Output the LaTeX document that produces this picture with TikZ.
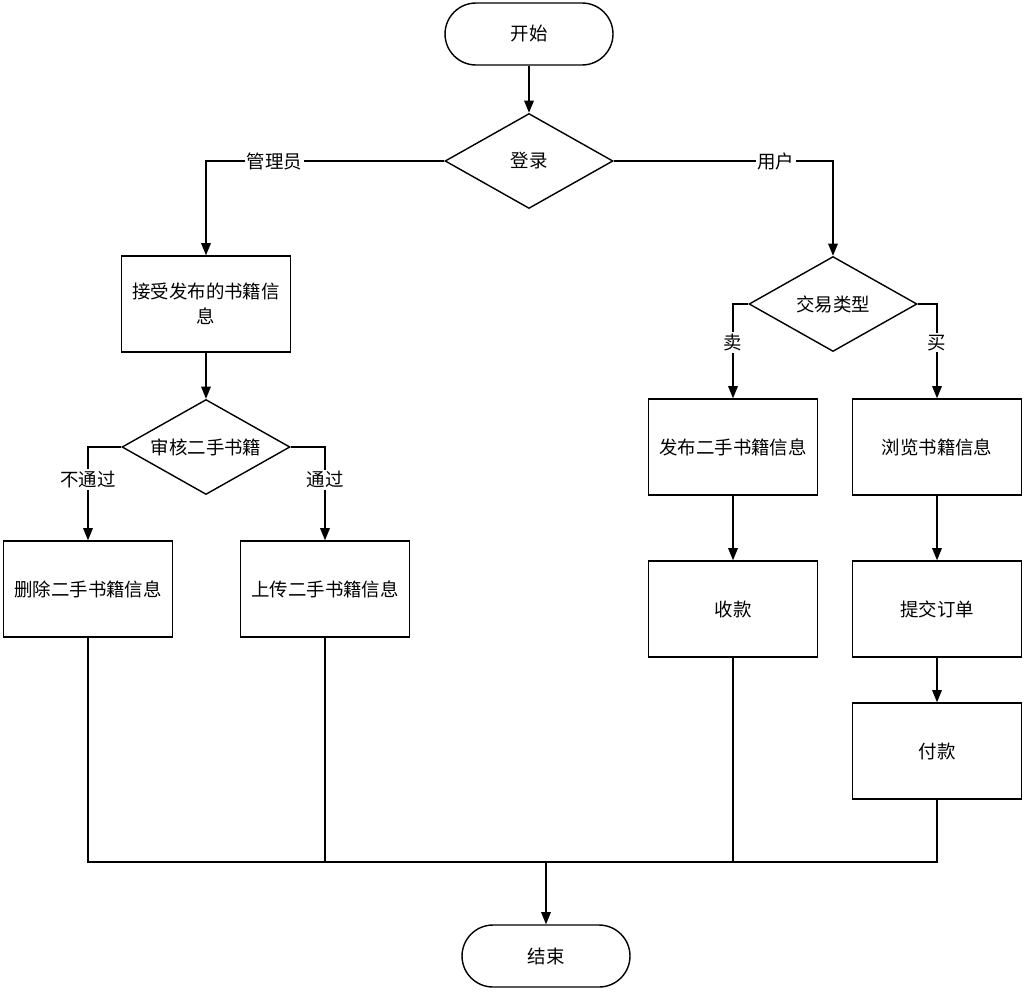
\documentclass[tikz,border=0pt]{standalone}
\usepackage{fontspec}
\setmainfont{Noto Sans CJK SC}
\usetikzlibrary{shapes.geometric,arrows.meta}

\begin{document}
\begin{tikzpicture}[
      x=0.02cm, y=-0.02cm,
      every node/.style={font=\fontsize{10.5}{14}\selectfont},
      pointer/.style={thick, -{Triangle[width=5.5pt,length=7pt]}, draw=black},
      link/.style={thick, draw=black},
      terminal/.style={rectangle, draw=black, thick, rounded corners=0.62cm, minimum width=3.36cm, minimum height=1.24cm},
      process/.style={rectangle, draw=black, thick, minimum width=3.38cm, minimum height=1.92cm, align=center},
      decision/.style={diamond, draw=black, thick, inner sep=0pt, aspect=1.77, minimum width=3.36cm, minimum height=1.9cm},
      branch/.style={fill=white, inner sep=1pt}
      ]
      \useasboundingbox (0,0) rectangle (1026,994);
      % start and login
      \node[terminal] (start) at (529,34) {开始};
      \node[decision] (login) at (529,161) {登录};
      % administrator side
      \node[process] (accept) at (206,304) {接受发布的书籍信\\息};
      \node[decision] (review) at (206,447) {审核二手书籍};
      \node[process] (delete) at (88,589) {删除二手书籍信息};
      \node[process] (upload) at (325,589) {上传二手书籍信息};
      % user side
      \node[decision] (trade) at (833,304) {交易类型};
      \node[process] (publish) at (733,447) {发布二手书籍信息};
      \node[process] (browse) at (937,447) {浏览书籍信息};
      \node[process] (receive) at (733,609) {收款};
      \node[process] (order) at (937,609) {提交订单};
      \node[process] (pay) at (937,751) {付款};
      % end
      \coordinate (merge) at (546,862);
      \node[terminal] (finish) at (546,956) {结束};

      \draw[pointer] (start) -- (login);
      \draw[pointer] (login.west) -| (accept.north) node[branch, pos=0.356] {管理员};
      \draw[pointer] (login.east) -| (trade.north) node[branch, pos=0.37] {用户};
      \draw[pointer] (accept) -- (review);
      \draw[pointer] (review.west) -| (delete.north) node[branch, pos=0.675] {不通过};
      \draw[pointer] (review.east) -| (upload.north) node[branch, pos=0.675] {通过};
      \draw[pointer] (trade.west) -| (publish.north) node[branch, pos=0.705] {卖};
      \draw[pointer] (trade.east) -| (browse.north) node[branch, pos=0.705] {买};
      \draw[pointer] (publish) -- (receive);
      \draw[pointer] (browse) -- (order);
      \draw[pointer] (order) -- (pay);
      \draw[link] (delete.south) |- (merge);
      \draw[link] (upload.south) |- (merge);
      \draw[link] (receive.south) |- (merge);
      \draw[link] (pay.south) |- (merge);
      \draw[pointer] (merge) -- (finish);
\end{tikzpicture}
\end{document}
